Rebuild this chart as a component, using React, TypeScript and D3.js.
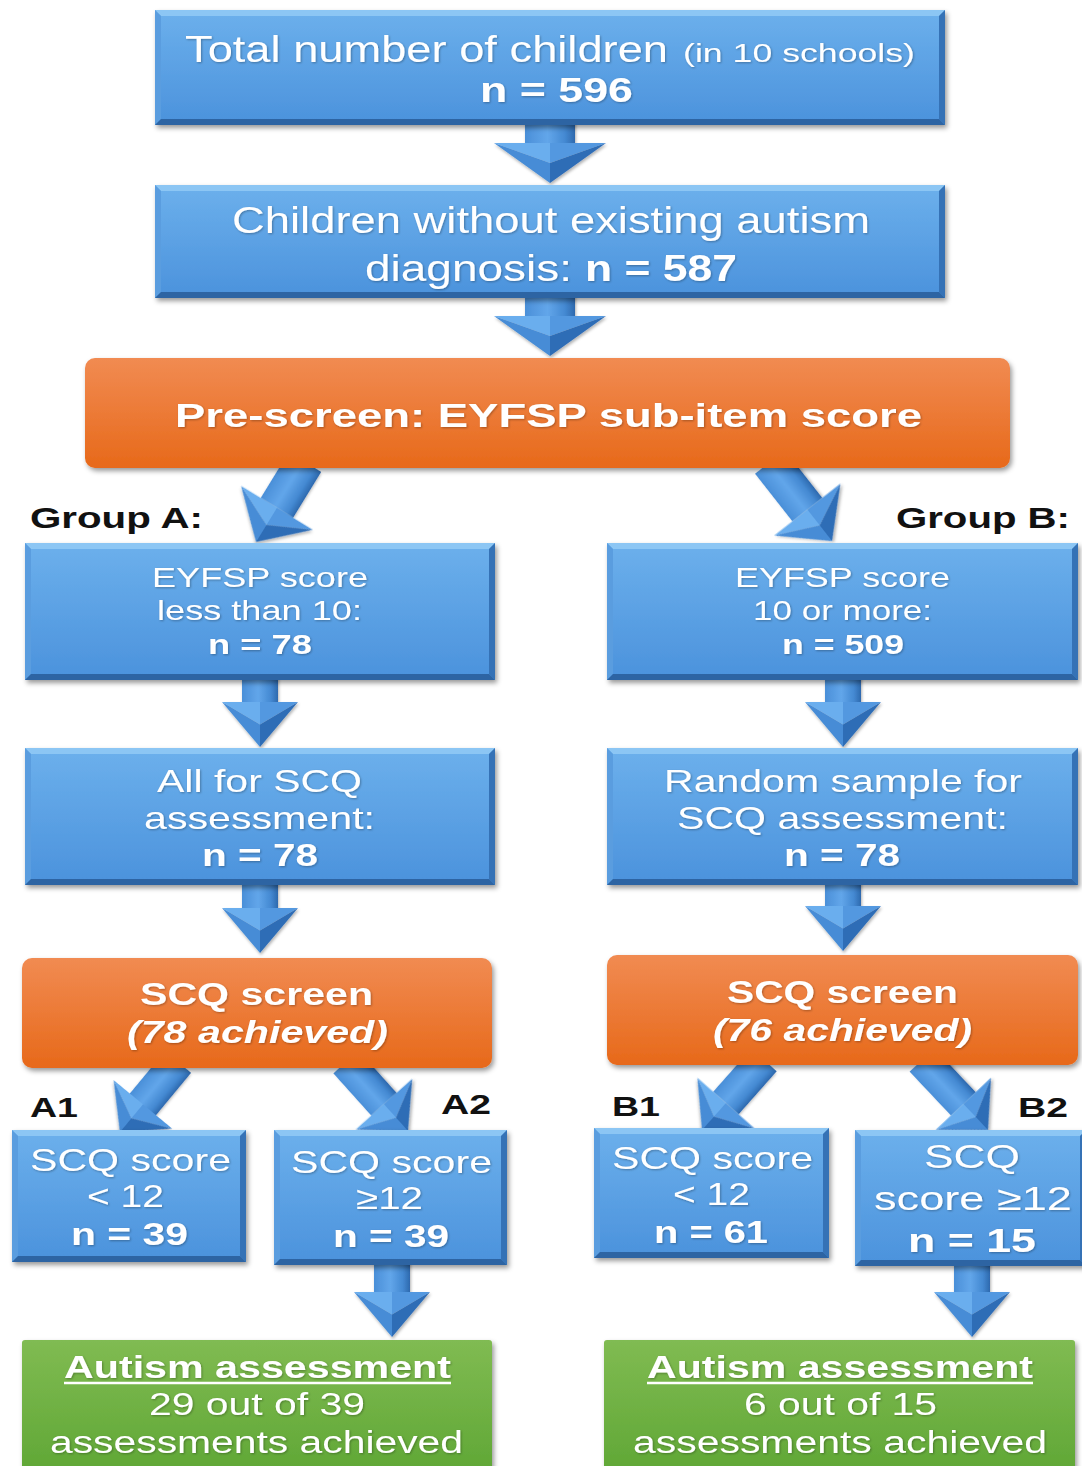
import React from "react";
import * as d3 from "d3";

const TOTAL_CHILDREN = 596;
const SCHOOLS = 10;
const WITHOUT_DIAGNOSIS = 587;
const EYFSP_CUTOFF = 10;
const GROUP_N = [78, 509];
const SCQ_SAMPLE = [78, 78];
const SCQ_ACHIEVED = [78, 76];
const SCQ_CUTOFF = 12;
const SPLIT_A = [39, 39];
const SPLIT_B = [61, 15];
const ASSESSED = [29, 6];
const ASSESS_OF = [39, 15];
const GROUP_LABELS = ["Group A:", "Group B:"];
const SUB_LABELS = ["A1", "A2", "B1", "B2"];

type Line = { t: string; x0: number; x1: number; y: number; size: number; bold?: boolean; italic?: boolean; under?: boolean; fill?: string; anchor?: string };

const W = 1082;
const H = 1466;
const FONT = "'Liberation Sans', Arial, sans-serif";

function BevelBox({ b }: { b: number[] }) {
  const [x0, y0, x1, y1] = b;
  const e = 6;
  return (
    <g>
      <rect x={x0} y={y0} width={x1 - x0} height={y1 - y0} fill="url(#blueGrad)" filter="url(#shadow)" />
      <polygon points={`${x0},${y0} ${x1},${y0} ${x1 - e},${y0 + e} ${x0 + e},${y0 + e}`} fill="#8cc6f4" />
      <polygon points={`${x0},${y0} ${x0 + e},${y0 + e} ${x0 + e},${y1 - e} ${x0},${y1}`} fill="#5a9ddf" />
      <polygon points={`${x1},${y0} ${x1},${y1} ${x1 - e},${y1 - e} ${x1 - e},${y0 + e}`} fill="#3572b6" />
      <polygon points={`${x0},${y1} ${x1},${y1} ${x1 - e},${y1 - e} ${x0 + e},${y1 - e}`} fill="#2d64a3" />
    </g>
  );
}

function RoundBox({ b, grad, rx }: { b: number[]; grad: string; rx: number }) {
  const [x0, y0, x1, y1] = b;
  return <rect x={x0} y={y0} width={x1 - x0} height={y1 - y0} rx={rx} fill={`url(#${grad})`} filter="url(#shadow)" />;
}

function Arrow({ a }: { a: number[] }) {
  const [x1, y1, x2, y2, shaft, head, hl] = a;
  const L = Math.hypot(x2 - x1, y2 - y1);
  const ang = (Math.atan2(y2 - y1, x2 - x1) * 180) / Math.PI - 90;
  const s = shaft / 2;
  const h = head / 2;
  const line = d3.line();
  const p = (pts: number[][]) => line(pts as [number, number][]) + "Z";
  const shaftPath = p([[-s, 0], [s, 0], [s, L - hl], [-s, L - hl]]);
  const mid = L - hl * 0.5;
  const headTopL = p([[-h, L - hl], [0, L - hl], [0, mid]]);
  const headTopR = p([[h, L - hl], [0, L - hl], [0, mid]]);
  const headL = p([[-h, L - hl], [0, mid], [0, L]]);
  const headR = p([[h, L - hl], [0, mid], [0, L]]);
  return (
    <g transform={`translate(${x1},${y1}) rotate(${ang})`} filter="url(#ashadow)">
      <path d={shaftPath} fill="url(#shaftGrad)" />
      <path d={headTopL} fill="#6aaeee" />
      <path d={headTopR} fill="#5298e0" />
      <path d={headL} fill="#468cd6" />
      <path d={headR} fill="#2f6db6" />
    </g>
  );
}

function Txt({ l }: { l: Line }) {
  const anchor = l.anchor || "middle";
  const x = anchor === "middle" ? (l.x0 + l.x1) / 2 : anchor === "start" ? l.x0 : l.x1;
  return (
    <g>
      <text
        x={x}
        y={l.y}
        textAnchor={anchor}
        fontFamily={FONT}
        fontSize={l.size}
        fontWeight={l.bold ? "bold" : "normal"}
        fontStyle={l.italic ? "italic" : "normal"}
        fill={l.fill || "#ffffff"}
        textLength={l.x1 - l.x0}
        lengthAdjust="spacingAndGlyphs"
        filter={l.fill ? undefined : "url(#tshadow)"}
      >
        {l.t}
      </text>
      {l.under ? <line x1={l.x0} x2={l.x1} y1={l.y + 5} y2={l.y + 5} stroke="#ffffff" strokeWidth={2.5} /> : null}
    </g>
  );
}

export default function App() {
  // boxes [x0, y0, x1, y1]
  const box1 = [155, 10, 945, 125];
  const box2 = [155, 185, 945, 298];
  const pre = [85, 358, 1010, 468];
  const aL1 = [25, 543, 495, 680];
  const bL1 = [607, 543, 1078, 680];
  const aL2 = [25, 748, 495, 885];
  const bL2 = [607, 748, 1078, 885];
  const scqA = [22, 958, 492, 1068];
  const scqB = [607, 955, 1078, 1065];
  const a1 = [12, 1130, 246, 1262];
  const a2 = [274, 1130, 507, 1265];
  const b1 = [594, 1128, 829, 1258];
  const b2 = [855, 1130, 1086, 1266];
  const gA = [22, 1340, 492, 1480];
  const gB = [604, 1340, 1075, 1480];

  // arrows [x1, y1, x2, y2, shaft, head, headLen]
  const arrows = [
    [550, 118, 550, 183, 50, 112, 40],
    [550, 292, 550, 356, 50, 112, 40],
    [305, 462, 256, 542, 38, 84, 40],
    [770, 462, 832, 541, 38, 84, 40],
    [260, 672, 260, 747, 36, 76, 45],
    [843, 672, 843, 747, 36, 76, 45],
    [260, 878, 260, 953, 36, 76, 45],
    [843, 878, 843, 951, 36, 76, 45],
    [178, 1062, 120, 1132, 34, 76, 36],
    [346, 1062, 408, 1131, 34, 76, 36],
    [764, 1060, 702, 1130, 34, 76, 36],
    [922, 1060, 988, 1130, 34, 76, 36],
    [392, 1258, 392, 1337, 36, 76, 45],
    [972, 1258, 972, 1337, 36, 76, 45],
  ];

  const lines: Line[] = [
    { t: "Total number of children", x0: 185, x1: 668, y: 62, size: 36 },
    { t: `(in ${SCHOOLS} schools)`, x0: 683, x1: 915, y: 62, size: 26 },
    { t: `n = ${TOTAL_CHILDREN}`, x0: 480, x1: 633, y: 102, size: 35, bold: true },
    { t: "Children without existing autism", x0: 232, x1: 870, y: 233, size: 37 },
    { t: "diagnosis:", x0: 365, x1: 572, y: 281, size: 37 },
    { t: `n = ${WITHOUT_DIAGNOSIS}`, x0: 585, x1: 737, y: 281, size: 36, bold: true },
    { t: "Pre-screen: EYFSP sub-item score", x0: 175, x1: 922, y: 427, size: 34, bold: true },
    { t: GROUP_LABELS[0], x0: 30, x1: 203, y: 528, size: 30, bold: true, fill: "#111111" },
    { t: GROUP_LABELS[1], x0: 896, x1: 1070, y: 528, size: 30, bold: true, fill: "#111111" },
    { t: "EYFSP score", x0: 152, x1: 368, y: 587, size: 28 },
    { t: `less than ${EYFSP_CUTOFF}:`, x0: 157, x1: 362, y: 620, size: 28 },
    { t: `n = ${GROUP_N[0]}`, x0: 208, x1: 312, y: 654, size: 28, bold: true },
    { t: "EYFSP score", x0: 735, x1: 950, y: 587, size: 28 },
    { t: `${EYFSP_CUTOFF} or more:`, x0: 753, x1: 932, y: 620, size: 28 },
    { t: `n = ${GROUP_N[1]}`, x0: 782, x1: 904, y: 654, size: 28, bold: true },
    { t: "All for SCQ", x0: 157, x1: 362, y: 792, size: 32 },
    { t: "assessment:", x0: 144, x1: 375, y: 829, size: 32 },
    { t: `n = ${SCQ_SAMPLE[0]}`, x0: 202, x1: 318, y: 866, size: 32, bold: true },
    { t: "Random sample for", x0: 664, x1: 1022, y: 792, size: 32 },
    { t: "SCQ assessment:", x0: 677, x1: 1008, y: 829, size: 32 },
    { t: `n = ${SCQ_SAMPLE[1]}`, x0: 784, x1: 900, y: 866, size: 32, bold: true },
    { t: "SCQ screen", x0: 140, x1: 373, y: 1005, size: 32, bold: true },
    { t: `(${SCQ_ACHIEVED[0]} achieved)`, x0: 127, x1: 388, y: 1043, size: 32, bold: true, italic: true },
    { t: "SCQ screen", x0: 727, x1: 958, y: 1003, size: 32, bold: true },
    { t: `(${SCQ_ACHIEVED[1]} achieved)`, x0: 713, x1: 972, y: 1041, size: 32, bold: true, italic: true },
    { t: SUB_LABELS[0], x0: 30, x1: 78, y: 1117, size: 28, bold: true, fill: "#111111" },
    { t: SUB_LABELS[1], x0: 441, x1: 491, y: 1114, size: 28, bold: true, fill: "#111111" },
    { t: SUB_LABELS[2], x0: 612, x1: 660, y: 1116, size: 28, bold: true, fill: "#111111" },
    { t: SUB_LABELS[3], x0: 1018, x1: 1068, y: 1117, size: 28, bold: true, fill: "#111111" },
    { t: "SCQ score", x0: 30, x1: 231, y: 1171, size: 32 },
    { t: `< ${SCQ_CUTOFF}`, x0: 87, x1: 164, y: 1207, size: 32 },
    { t: `n = ${SPLIT_A[0]}`, x0: 71, x1: 188, y: 1245, size: 32, bold: true },
    { t: "SCQ score", x0: 291, x1: 492, y: 1173, size: 32 },
    { t: `≥${SCQ_CUTOFF}`, x0: 356, x1: 423, y: 1209, size: 32 },
    { t: `n = ${SPLIT_A[1]}`, x0: 333, x1: 449, y: 1247, size: 32, bold: true },
    { t: "SCQ score", x0: 612, x1: 813, y: 1169, size: 32 },
    { t: `< ${SCQ_CUTOFF}`, x0: 673, x1: 750, y: 1205, size: 32 },
    { t: `n = ${SPLIT_B[0]}`, x0: 654, x1: 768, y: 1243, size: 32, bold: true },
    { t: "SCQ", x0: 924, x1: 1020, y: 1168, size: 34 },
    { t: `score ≥${SCQ_CUTOFF}`, x0: 874, x1: 1072, y: 1210, size: 34 },
    { t: `n = ${SPLIT_B[1]}`, x0: 908, x1: 1036, y: 1252, size: 34, bold: true },
    { t: "Autism assessment", x0: 64, x1: 451, y: 1378, size: 31, bold: true, under: true },
    { t: `${ASSESSED[0]} out of ${ASSESS_OF[0]}`, x0: 149, x1: 365, y: 1415, size: 31 },
    { t: "assessments achieved", x0: 50, x1: 463, y: 1453, size: 31 },
    { t: "Autism assessment", x0: 647, x1: 1033, y: 1378, size: 31, bold: true, under: true },
    { t: `${ASSESSED[1]} out of ${ASSESS_OF[1]}`, x0: 744, x1: 937, y: 1415, size: 31 },
    { t: "assessments achieved", x0: 633, x1: 1047, y: 1453, size: 31 },
  ];

  return (
    <svg width={W} height={H} style={{ position: "absolute", left: 0, top: 0, background: "#ffffff" }}>
      <defs>
        <linearGradient id="blueGrad" x1="0" y1="0" x2="0" y2="1">
          <stop offset="0" stopColor="#6cb0ec" />
          <stop offset="1" stopColor="#4b92dc" />
        </linearGradient>
        <linearGradient id="shaftGrad" x1="0" y1="0" x2="1" y2="0">
          <stop offset="0" stopColor="#4a8fd8" />
          <stop offset="0.45" stopColor="#62a6ea" />
          <stop offset="0.8" stopColor="#4489d2" />
          <stop offset="1" stopColor="#2e69ae" />
        </linearGradient>
        <linearGradient id="orangeGrad" x1="0" y1="0" x2="0" y2="1">
          <stop offset="0" stopColor="#f18b52" />
          <stop offset="1" stopColor="#e7691a" />
        </linearGradient>
        <linearGradient id="greenGrad" x1="0" y1="0" x2="0" y2="1">
          <stop offset="0" stopColor="#80bb52" />
          <stop offset="1" stopColor="#5ea634" />
        </linearGradient>
        <filter id="shadow" x="-5%" y="-10%" width="115%" height="130%">
          <feDropShadow dx="2" dy="3" stdDeviation="2.5" floodColor="#000" floodOpacity="0.4" />
        </filter>
        <filter id="ashadow" x="-30%" y="-30%" width="160%" height="160%">
          <feDropShadow dx="1" dy="2" stdDeviation="1.5" floodColor="#000" floodOpacity="0.3" />
        </filter>
        <filter id="tshadow" x="-5%" y="-20%" width="110%" height="150%">
          <feDropShadow dx="1" dy="1" stdDeviation="0.8" floodColor="#000" floodOpacity="0.3" />
        </filter>
      </defs>
      {arrows.map((a, i) => (
        <Arrow key={i} a={a} />
      ))}
      {[box1, box2, aL1, bL1, aL2, bL2, a1, a2, b1, b2].map((b, i) => (
        <BevelBox key={"b" + i} b={b} />
      ))}
      {[pre, scqA, scqB].map((b, i) => (
        <RoundBox key={"o" + i} b={b} grad="orangeGrad" rx={10} />
      ))}
      {[gA, gB].map((b, i) => (
        <RoundBox key={"g" + i} b={b} grad="greenGrad" rx={3} />
      ))}
      {lines.map((l, i) => (
        <Txt key={"t" + i} l={l} />
      ))}
    </svg>
  );
}
